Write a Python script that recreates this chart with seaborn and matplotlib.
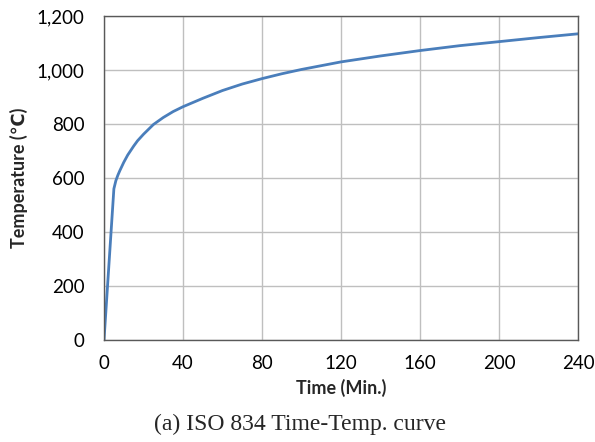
import matplotlib
matplotlib.use('Agg')
import matplotlib.pyplot as plt
import pandas as pd
import seaborn as sns

# Values
time_min = [0, 5, 6, 7, 8, 10, 12, 15, 17, 20, 25, 30, 35, 40, 50, 60, 70,
            80, 90, 100, 110, 120, 140, 160, 180, 200, 220, 240]
temp_c = [0, 560, 590, 610, 627, 658, 685, 718, 738, 762, 798, 824, 846, 864,
          895, 924, 948, 968, 986, 1002, 1016, 1030, 1052, 1072, 1090, 1105,
          1120, 1134]
x_ticks = [0, 40, 80, 120, 160, 200, 240]
y_ticks = [0, 200, 400, 600, 800, 1000, 1200]
y_tick_labels = ['0', '200', '400', '600', '800', '1,000', '1,200']

df = pd.DataFrame({'Time': time_min, 'Temp': temp_c})

sns.set_style('white')
plt.rcParams['font.family'] = ['Lato', 'DejaVu Sans']

fig = plt.figure(figsize=(5.95, 4.42), dpi=100)
ax = fig.add_axes([0.1748, 0.2308, 0.7966, 0.733])

sns.lineplot(data=df, x='Time', y='Temp', ax=ax, color='#4a7ebb', linewidth=2.0)

ax.set_xlim(0, 240)
ax.set_ylim(0, 1200)
ax.set_xticks(x_ticks)
ax.set_yticks(y_ticks)
ax.set_yticklabels(y_tick_labels)
ax.grid(True, color='#bfbfbf', linewidth=1.0)
ax.tick_params(length=0, labelsize=13.5, colors='black')
ax.tick_params(axis='y', pad=14)
ax.tick_params(axis='x', pad=11)
for s in ax.spines.values():
    s.set_color('#595959')
    s.set_linewidth(1.0)

ax.set_xlabel('Time (Min.)', fontsize=13, fontweight='bold', labelpad=5)
ax.set_ylabel('Temperature (\u2103)', fontsize=13, fontweight='bold', labelpad=6)

fig.text(0.505, 0.04, '(a) ISO 834 Time-Temp. curve', ha='center', va='center',
         fontsize=17, family=['Liberation Serif', 'DejaVu Serif'])

fig.savefig('out.png', dpi=100)
